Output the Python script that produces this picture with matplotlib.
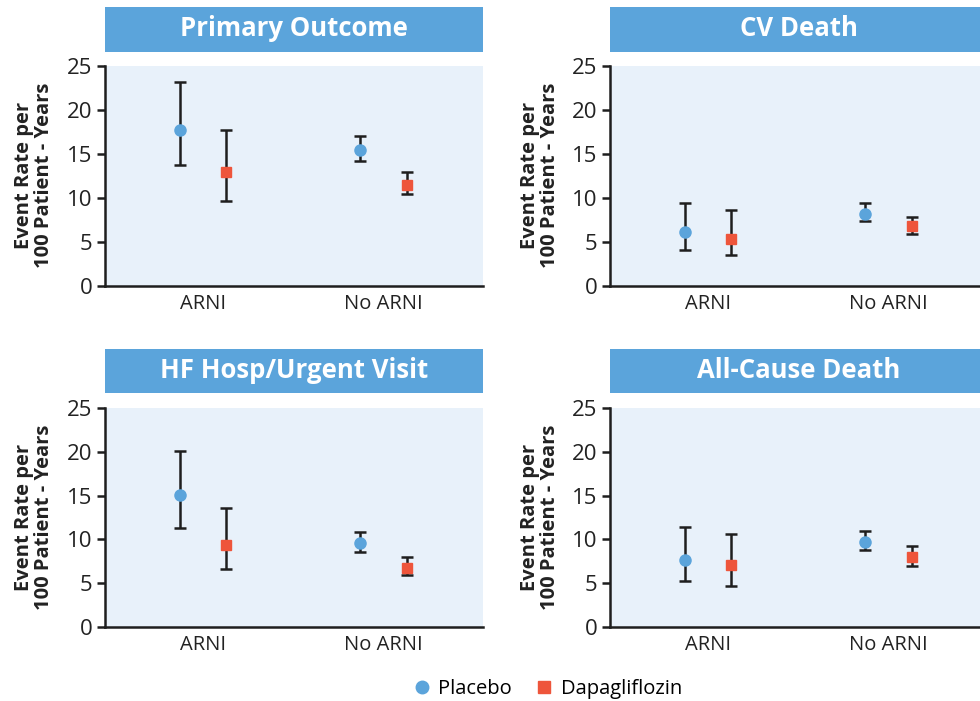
import matplotlib.pyplot as plt
from matplotlib.lines import Line2D
import numpy as np

plt.rcParams['font.family'] = ['Open Sans', 'DejaVu Sans']

# Event rates per 100 patient-years, [ARNI, No ARNI]
outcomes = ['Primary Outcome', 'CV Death', 'HF Hosp/Urgent Visit', 'All-Cause Death']
groups = ['ARNI', 'No ARNI']

placebo_rate = [[17.7, 15.45], [6.1, 8.2], [15.1, 9.6], [7.7, 9.7]]
placebo_lo = [[13.75, 14.2], [4.05, 7.3], [11.35, 8.6], [5.3, 8.75]]
placebo_hi = [[23.1, 17.05], [9.45, 9.45], [20.05, 10.8], [11.4, 11.0]]

dapa_rate = [[12.95, 11.5], [5.35, 6.8], [9.4, 6.75], [7.05, 7.95]]
dapa_lo = [[9.65, 10.4], [3.45, 5.85], [6.6, 5.9], [4.7, 7.0]]
dapa_hi = [[17.75, 12.9], [8.55, 7.8], [13.55, 7.95], [10.6, 9.2]]

BLUE = '#5BA4DB'
RED = '#EE553B'
BG = '#E8F1FA'
DARK = '#1E1E1E'

W, H = 980, 701
fig = plt.figure(figsize=(W / 100, H / 100), dpi=100)

def px_axes(x0, y0, x1, y1):
    # pixel box measured from top-left corner -> figure fraction
    return fig.add_axes([x0 / W, 1 - y1 / H, (x1 - x0) / W, (y1 - y0) / H])

# (left, right, banner top, banner bottom, axes top, axes bottom)
panels = [
    (105, 483, 6.5, 51.5, 65.7, 285.7),
    (610, 988, 6.5, 51.5, 65.7, 285.7),
    (105, 483, 349, 393, 408, 627),
    (610, 988, 349, 393, 408, 627),
]

off = 0.128
xs = np.arange(len(groups))

for i, (x0, x1, bt, bb, at, ab) in enumerate(panels):
    # header banner
    hb = px_axes(x0, bt, x1, bb)
    hb.set_facecolor(BLUE)
    hb.set_xticks([])
    hb.set_yticks([])
    for s in hb.spines.values():
        s.set_visible(False)
    hb.text(0.5, 0.5, outcomes[i], color='white', fontsize=18.5, fontweight='bold',
            ha='center', va='center', transform=hb.transAxes)

    ax = px_axes(x0, at, x1, ab)
    ax.set_facecolor(BG)
    for s in ['top', 'right']:
        ax.spines[s].set_visible(False)
    for s in ['left', 'bottom']:
        ax.spines[s].set_linewidth(1.8)
        ax.spines[s].set_color(DARK)

    p = np.array(placebo_rate[i])
    d = np.array(dapa_rate[i])
    p_err = [p - np.array(placebo_lo[i]), np.array(placebo_hi[i]) - p]
    d_err = [d - np.array(dapa_lo[i]), np.array(dapa_hi[i]) - d]

    ax.errorbar(xs - off, p, yerr=p_err, fmt='none', ecolor=DARK, elinewidth=1.8,
                capsize=4, capthick=1.8, zorder=2)
    ax.errorbar(xs + off, d, yerr=d_err, fmt='none', ecolor=DARK, elinewidth=1.8,
                capsize=4, capthick=1.8, zorder=2)
    ax.plot(xs - off, p, 'o', color=BLUE, markersize=8, zorder=3)
    ax.plot(xs + off, d, 's', color=RED, markersize=7.5, zorder=3)

    ax.set_xlim(-0.54, 1.55)
    ax.set_ylim(0, 25)
    ax.set_yticks([0, 5, 10, 15, 20, 25])
    ax.set_xticks(xs)
    ax.set_xticklabels(groups)
    ax.tick_params(axis='y', length=6, width=1.8, color=DARK, labelsize=16, pad=3,
                   labelcolor='#222222')
    ax.tick_params(axis='x', length=0, labelsize=14.5, pad=6, labelcolor='#222222')
    ax.set_ylabel('Event Rate per\n100 Patient - Years', fontsize=14.5,
                  fontweight='bold', color='#222222', labelpad=9, linespacing=1.0)

# legend across the bottom
handles = [
    Line2D([], [], marker='o', linestyle='none', color=BLUE, markersize=9),
    Line2D([], [], marker='s', linestyle='none', color=RED, markersize=9),
]
fig.legend(handles, ['Placebo', 'Dapagliflozin'], loc='center',
           bbox_to_anchor=(548 / W, 1 - 689 / H), ncol=2, frameon=False,
           fontsize=14.5, handlelength=0.8, handletextpad=0.4, columnspacing=1.2)

fig.savefig('out.png', dpi=100, facecolor='white')
